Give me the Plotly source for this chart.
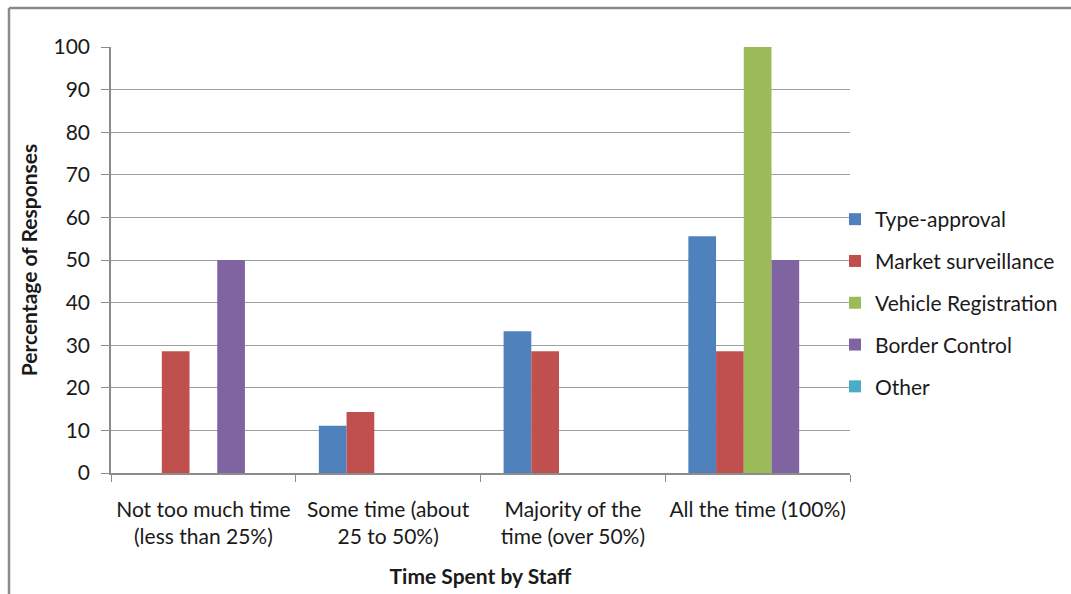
import plotly.graph_objects as go

categories = ["Not too much time<br>(less than 25%)", "Some time (about<br>25 to 50%)",
              "Majority of the<br>time (over 50%)", "All the time (100%)"]
series_names = ["Type-approval", "Market surveillance", "Vehicle Registration", "Border Control", "Other"]
type_approval = [0, 11.1, 33.3, 55.6]
market_surveillance = [28.6, 14.3, 28.6, 28.6]
vehicle_registration = [0, 0, 0, 100]
border_control = [50, 0, 0, 50]
other = [0, 0, 0, 0]
colors = ["#4F81BD", "#C0504D", "#9BBB59", "#8064A2", "#4BACC6"]
y_ticks = list(range(0, 101, 10))

W, H = 1071, 594
L, R, T, B = 111, 221, 47, 121
pw, ph = W - L - R, H - T - B
FONT = "Lato, Carlito, Calibri, sans-serif"

fig = go.Figure()
for name, vals, col in zip(series_names,
                           [type_approval, market_surveillance, vehicle_registration, border_control, other],
                           colors):
    fig.add_trace(go.Bar(x=categories, y=vals, name=name, marker_color=col,
                         marker_line_width=0, legendgroup=name))

fig.update_layout(
    width=W, height=H, margin=dict(l=L, r=R, t=T, b=B, autoexpand=False),
    paper_bgcolor="white", plot_bgcolor="white",
    barmode="group", bargap=0.25, bargroupgap=0,
    font=dict(family=FONT, size=21, color="#1a1a1a"),
    showlegend=True,
    legend=dict(xref="container", yref="container", x=835 / W, y=(H - 303) / H,
                xanchor="left", yanchor="middle",
                traceorder="grouped", tracegroupgap=11.5,
                font=dict(size=21, family=FONT, color="#1a1a1a"),
                itemwidth=30, bgcolor="rgba(0,0,0,0)"),
    xaxis=dict(showline=True, linecolor="#8c8c8c", linewidth=1.5, tickangle=0,
               ticks="outside", tickson="boundaries", ticklen=7, tickcolor="#8c8c8c",
               ticklabelstandoff=17,
               title=dict(text="<b>Time Spent by Staff</b>", font=dict(size=21), standoff=22)),
    yaxis=dict(range=[0, 100], tickvals=y_ticks, showline=True, linecolor="#8c8c8c", linewidth=1.5,
               ticks="outside", ticklen=8, tickcolor="#8c8c8c",
               showgrid=True, gridcolor="#9e9e9e", gridwidth=1.2,
               ticklabelstandoff=7, zeroline=False,
               title=dict(text="<b>Percentage of Responses</b>", font=dict(size=21), standoff=10)),
)

# outer chart frame (left and top edges visible in reference)
fx0 = (9 - L) / pw
fy1 = (H - B - 8) / ph
fig.add_shape(type="line", xref="paper", yref="paper", x0=fx0, x1=fx0,
              y0=(H - B - H - 10) / ph, y1=fy1, line=dict(color="#8a8a8a", width=2.5))
fig.add_shape(type="line", xref="paper", yref="paper", x0=fx0, x1=(W + 10 - L) / pw,
              y0=fy1, y1=fy1, line=dict(color="#8a8a8a", width=2.5))

fig.write_html("out.html")
